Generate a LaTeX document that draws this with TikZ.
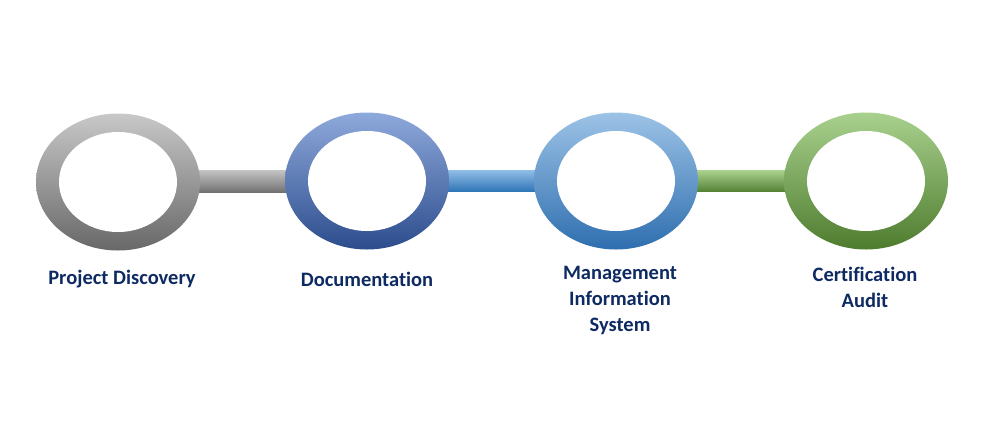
\documentclass[tikz,border=0pt]{standalone}
\usepackage{fontspec}
\setmainfont{Carlito}[Ligatures=CommonOff]
\usetikzlibrary{shapes.geometric,backgrounds}
\definecolor{navy}{HTML}{0E2A62}
\tikzset{
    ring/.style={ellipse, minimum width=164pt, minimum height=137pt, inner sep=0pt},
    hole/.style={ellipse, fill=white, minimum width=118pt, minimum height=100pt, inner sep=0pt},
    stage/.style={text=navy, font=\bfseries\fontsize{20.5}{26}\selectfont, align=center}
}
\begin{document}
\begin{tikzpicture}[x=1pt,y=-1pt]
    \useasboundingbox (0,0) rectangle (983,437);

    % Rings
    \node[ring, top color={rgb,255:red,200;green,200;blue,200}, bottom color={rgb,255:red,104;green,104;blue,104}] (disc) at (118,182) {};
    \node[ring, top color={rgb,255:red,142;green,169;blue,219}, middle color={rgb,255:red,68;green,114;blue,196}, bottom color={rgb,255:red,44;green,76;blue,140}] (docu) at (367,181) {};
    \node[ring, top color={rgb,255:red,157;green,195;blue,230}, middle color={rgb,255:red,91;green,155;blue,213}, bottom color={rgb,255:red,46;green,110;blue,175}] (mis) at (616,181) {};
    \node[ring, top color={rgb,255:red,169;green,209;blue,142}, middle color={rgb,255:red,112;green,173;blue,71}, bottom color={rgb,255:red,78;green,124;blue,46}] (audit) at (866,181) {};

    % Holes
    \node[hole] at (disc) {};
    \node[hole] at (docu) {};
    \node[hole] at (mis) {};
    \node[hole] at (audit) {};

    % Connecting bars, behind the rings
    \begin{pgfonlayer}{background}
    \shade[top color={rgb,255:red,195;green,195;blue,195}, bottom color={rgb,255:red,112;green,112;blue,112}] ([yshift=-10.5pt]disc.center) rectangle ([yshift=10.5pt]docu.center);
    \shade[top color={rgb,255:red,143;green,188;blue,230}, bottom color={rgb,255:red,46;green,117;blue,182}] ([yshift=-10.5pt]docu.center) rectangle ([yshift=10.5pt]mis.center);
    \shade[top color={rgb,255:red,169;green,209;blue,142}, bottom color={rgb,255:red,84;green,130;blue,53}] ([yshift=-10.5pt]mis.center) rectangle ([yshift=10.5pt]audit.center);
    \end{pgfonlayer}

    % Labels
    \node[stage] (discT) at (122,279) {Project Discovery};
    \node[stage] (docuT) at (367,279) {Documentation};
    \node[stage] (misT) at (620,300) {Management\\Information\\System};
    \node[stage] (auditT) at (865,287) {Certification\\Audit};
\end{tikzpicture}
\end{document}
